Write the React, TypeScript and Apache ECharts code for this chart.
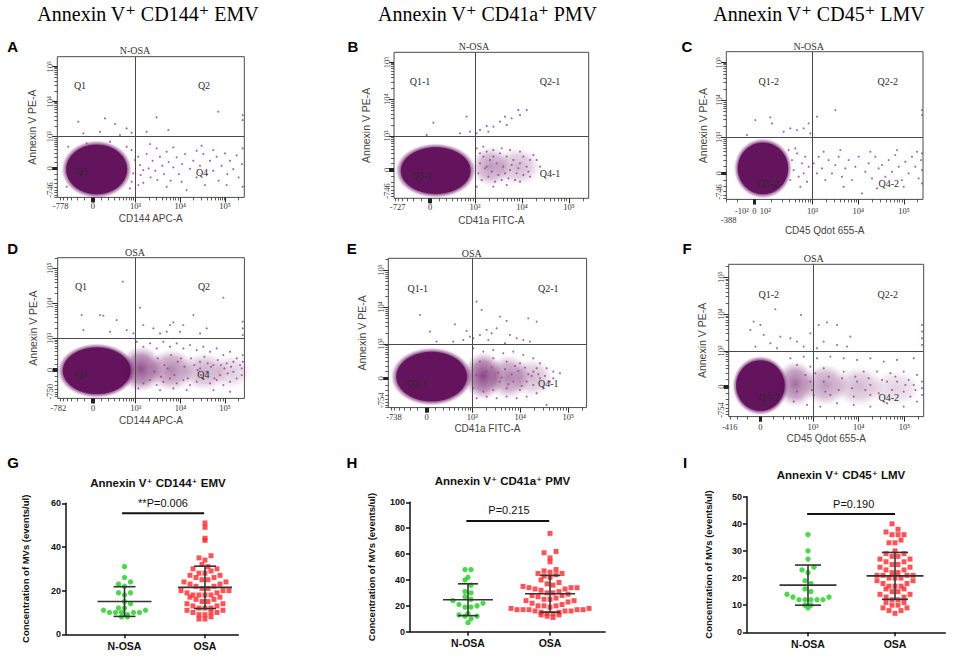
import React, { useEffect, useRef } from "react";
import * as echarts from "echarts";

const SERIF = "Liberation Serif, DejaVu Serif, serif";
const SANS = "Liberation Sans, Arial, DejaVu Sans, sans-serif";

// ---------------- texts ----------------
const columnTitles = ["Annexin V⁺ CD144⁺ EMV", "Annexin V⁺ CD41a⁺ PMV", "Annexin V⁺ CD45⁺ LMV"];
const panelLetters = ["A", "B", "C", "D", "E", "F", "G", "H", "I"];
const groupNames = ["N-OSA", "OSA"];

// ---------------- flow cytometry panels (A-F), values in display channels ----------------
const flowGroup = ["N-OSA", "N-OSA", "N-OSA", "OSA", "OSA", "OSA"];
const flowXName = ["CD144 APC-A", "CD41a FITC-A", "CD45 Qdot 655-A", "CD144 APC-A", "CD41a FITC-A", "CD45 Qdot 655-A"];
const flowYName = "Annexin V PE-A";
const flowQuadrants = [
  ["Q1", "Q2", "Q3", "Q4"],
  ["Q1-1", "Q2-1", "Q3-1", "Q4-1"],
  ["Q1-2", "Q2-2", "Q3-2", "Q4-2"],
  ["Q1", "Q2", "Q3", "Q4"],
  ["Q1-1", "Q2-1", "Q3-1", "Q4-1"],
  ["Q1-2", "Q2-2", "Q3-2", "Q4-2"],
];
const flowXRange = [561, 584, 590, 560, 595, 585];
const flowYRange = [422, 438, 443, 422, 448, 457];
// biexponential display model of each axis: [channel of 0, channel of 10^3, channels per decade]
const flowXScale = [[107, 235, 134], [108, 243, 141], [84, 259, 137], [106, 234, 134], [115, 252, 144], [95, 253, 137]];
const flowYScale = [[87, 182, 105], [85, 187, 110], [78, 186, 112], [85, 180, 105], [88, 191, 111], [90, 197, 111]];
const flowXTickText = [
  ["-778", "0", "10³", "10⁴", "10⁵"],
  ["-727", "0", "10³", "10⁴", "10⁵"],
  ["-388", "-10²", "0", "10²", "10³", "10⁴", "10⁵"],
  ["-782", "0", "10³", "10⁴", "10⁵"],
  ["-738", "0", "10³", "10⁴", "10⁵"],
  ["-416", "0", "10³", "10⁴", "10⁵"],
];
const flowXTickAt = [
  [10, 107, 235, 369, 503],
  [11, 108, 243, 384, 525],
  [7, 47, 84, 117, 259, 396, 533],
  [2, 106, 234, 368, 502],
  [17, 115, 252, 396, 540],
  [3, 95, 253, 390, 527],
];
const flowYTickText = [
  ["-746", "0", "10³", "10⁴", "10⁵"],
  ["-746", "0", "10³", "10⁴", "10⁵"],
  ["-746", "0", "10³", "10⁴", "10⁵"],
  ["-750", "0", "10³", "10⁴", "10⁵"],
  ["-754", "0", "10³", "10⁴", "10⁵"],
  ["-754", "0", "10³", "10⁴", "10⁵"],
];
const flowYTickAt = [
  [22, 87, 182, 287, 392],
  [22, 85, 187, 297, 407],
  [22, 78, 186, 298, 410],
  [20, 85, 180, 285, 390],
  [22, 88, 191, 302, 413],
  [20, 90, 197, 308, 419],
];
const flowGate = [[235, 182], [243, 187], [259, 186], [234, 180], [252, 191], [253, 197]];
const flowCore = [[118, 84], [125, 83], [110, 93], [117, 83], [130, 93], [95, 93]];
const flowTail = [
  [],
  [[290, 95], [370, 95]],
  [],
  [[250, 88], [340, 85], [440, 80], [520, 80]],
  [[285, 95], [360, 92], [430, 90]],
  [[200, 98], [290, 95], [390, 90], [500, 85]],
];
const flowPointsA = [
  [63, 227], [143, 237], [173, 220], [208, 207], [128, 197], [223, 194], [188, 187], [78, 192],
  [298, 240], [483, 257], [268, 197], [333, 202], [556, 247], [556, 232],
  [243, 122], [248, 97], [250, 67], [258, 44], [268, 130], [274, 87], [280, 60], [286, 110], [294, 80], [300, 52],
  [308, 122], [315, 95], [320, 70], [328, 137], [334, 106], [340, 50], [348, 90], [358, 120], [365, 70], [374, 100],
  [383, 130], [388, 22], [398, 86], [408, 110], [418, 60], [428, 95], [438, 130], [448, 70], [458, 110], [468, 80],
  [478, 122], [484, 50], [493, 95], [503, 132], [510, 70], [518, 110], [528, 85], [538, 126], [544, 60], [554, 100],
  [556, 147], [556, 32], [278, 160], [348, 150], [433, 155], [298, 147], [418, 140], [468, 142], [258, 82], [243, 37],
  [328, 32], [373, 47], [443, 37], [508, 37],
  [223, 142], [228, 72], [233, 112], [218, 27], [223, 47], [208, 152], [158, 167], [88, 162], [33, 152], [28, 32],
];
const flowPointsB = [
  [218, 245], [333, 245], [373, 265], [398, 265], [318, 230], [278, 217], [258, 205], [298, 215], [353, 240], [118, 227],
  [98, 190], [198, 195], [228, 200], [248, 195], [283, 200], [338, 220], [378, 250],
  [248, 150], [258, 135], [268, 125], [278, 140], [288, 115], [298, 145], [308, 105], [318, 135], [328, 95], [338, 125],
  [348, 85], [358, 115], [368, 75], [378, 105], [388, 125], [398, 95], [408, 115], [418, 130], [253, 75], [263, 55],
  [273, 90], [283, 65], [293, 80], [303, 50], [313, 70], [323, 55], [333, 75], [343, 60], [353, 100], [363, 55],
  [373, 90], [388, 70], [403, 80], [378, 50], [258, 105], [278, 95], [298, 125], [268, 155], [323, 150], [348, 145],
  [378, 140], [428, 115], [438, 95], [408, 65], [248, 35], [298, 35], [338, 40],
];
const flowPointsC = [
  [87, 238], [132, 246], [137, 228], [192, 213], [212, 208], [232, 213], [247, 228], [62, 193], [172, 203], [272, 248],
  [327, 268], [587, 268], [587, 253], [252, 198],
  [187, 148], [197, 118], [202, 88], [212, 138], [217, 68], [227, 108], [232, 78], [237, 128], [242, 53], [247, 98],
  [222, 38], [192, 58], [207, 153],
  [262, 108], [272, 78], [277, 128], [287, 93], [297, 58], [307, 118], [317, 78], [327, 103], [337, 128], [347, 68],
  [357, 93], [367, 118], [377, 58], [387, 98], [397, 128], [407, 18], [417, 83], [427, 108], [437, 63], [447, 128],
  [457, 93], [467, 103], [477, 68], [487, 118], [497, 83], [507, 133], [517, 98], [527, 58], [537, 113], [547, 78],
  [557, 128], [567, 98], [577, 63], [584, 118], [587, 88], [587, 48], [587, 138], [292, 143], [342, 148], [432, 143],
  [512, 148], [572, 143], [352, 38], [452, 33], [532, 38],
];
const flowPointsD = [
  [195, 350], [72, 250], [127, 250], [137, 248], [177, 235], [247, 272], [497, 302], [407, 250], [347, 228], [337, 220],
  [377, 220], [447, 210], [287, 210], [257, 220], [207, 205], [227, 195], [307, 195], [327, 200], [367, 200], [427, 195],
  [77, 205], [157, 200], [555, 230], [555, 210], [555, 190],
  [237, 170], [257, 155], [277, 165], [297, 150], [317, 170], [337, 155], [357, 165], [377, 150], [397, 160], [417, 145],
  [437, 155], [457, 140], [477, 150], [497, 130], [517, 140], [537, 120], [547, 100], [527, 80], [537, 60], [517, 50],
  [497, 40], [477, 55], [457, 45], [437, 60], [417, 50], [397, 40], [377, 55], [357, 45], [337, 60], [317, 50],
  [297, 40], [277, 55], [257, 45], [242, 30], [427, 110], [467, 100], [507, 105], [447, 80], [487, 70], [427, 90],
  [527, 110], [552, 90], [552, 70], [555, 130], [555, 110], [347, 30], [307, 25], [387, 25], [467, 25], [517, 20],
  [300, 120], [320, 100], [340, 130], [360, 110], [380, 95], [400, 120], [420, 85], [440, 125], [460, 95], [480, 115],
  [500, 90], [290, 80], [310, 65], [330, 90], [350, 70], [370, 120], [390, 60], [410, 100], [430, 70], [450, 105],
  [470, 60], [490, 100], [510, 75], [520, 95],
];
const flowPointsE = [
  [95, 278], [200, 250], [235, 230], [265, 318], [280, 293], [335, 273], [355, 260], [420, 268], [445, 258], [295, 233],
  [310, 223], [325, 238], [275, 218], [255, 208], [385, 208], [405, 203], [425, 198], [125, 228], [145, 198], [195, 198],
  [225, 203], [245, 213], [300, 203], [350, 193], [365, 218],
  [255, 178], [285, 168], [315, 173], [345, 163], [375, 168], [405, 158], [435, 148], [455, 133], [475, 118], [495, 108],
  [515, 103], [485, 78], [465, 58], [445, 43], [415, 33], [385, 28], [355, 33], [325, 28], [295, 33], [265, 28],
  [475, 8], [255, 58], [275, 138], [315, 148], [355, 138], [395, 133], [435, 108], [455, 88], [435, 68], [395, 53],
  [355, 58], [315, 53], [285, 48], [335, 78], [375, 78], [415, 78], [295, 108], [265, 98], [445, 118], [495, 88],
  [310, 120], [330, 105], [350, 115], [370, 100], [390, 110], [410, 120], [430, 95], [380, 125], [340, 90], [360, 70],
  [400, 65], [420, 100], [450, 100], [470, 95],
];
const flowPointsF = [
  [140, 322], [217, 305], [75, 285], [95, 275], [65, 260], [105, 245], [125, 220], [155, 240], [185, 235], [205, 225],
  [225, 210], [245, 250], [270, 275], [295, 283], [325, 275], [365, 240], [285, 225], [325, 215], [355, 210], [145, 205],
  [80, 210], [265, 205], [580, 275], [580, 255], [580, 235], [580, 215],
  [185, 175], [225, 180], [265, 175], [305, 180], [345, 175], [385, 170], [425, 175], [465, 165], [505, 170], [555, 175],
  [195, 45], [235, 35], [275, 30], [325, 40], [375, 35], [425, 30], [475, 40], [525, 30], [565, 45], [405, 135],
  [445, 135], [485, 130], [525, 135], [565, 125], [580, 105], [580, 85], [580, 65], [555, 95], [525, 75], [505, 105],
  [545, 60], [425, 65], [375, 60], [345, 135], [285, 145], [245, 150], [205, 155], [305, 65], [255, 65], [205, 75],
  [385, 105], [285, 105], [245, 105], [425, 95], [475, 105],
  [230, 125], [260, 130], [300, 120], [340, 115], [380, 120], [420, 115], [460, 110], [500, 120], [540, 110], [250, 80],
  [290, 75], [330, 80], [370, 85], [410, 80], [450, 70], [490, 80], [530, 95], [560, 80],
];
const flowPoints = [flowPointsA, flowPointsB, flowPointsC, flowPointsD, flowPointsE, flowPointsF];

// ---------------- dot plots (G-I), events/ul ----------------
const dotTitles = ["Annexin V⁺ CD144⁺ EMV", "Annexin V⁺ CD41a⁺ PMV", "Annexin V⁺ CD45⁺ LMV"];
const dotYName = "Concentration of MVs (events/ul)";
const emvNOSA = [31, 26, 24, 23, 22, 19, 19, 18, 15, 14, 12, 12, 11, 11, 10, 10, 10, 10, 10, 9, 8, 8];
const emvOSA = [51, 49, 44, 43, 36, 35, 34, 32, 31, 30, 30, 29, 28, 28, 27, 27, 26, 26, 25, 25, 24, 24, 23, 23, 22, 22,
  21, 21, 20, 20, 20, 19, 19, 18, 18, 18, 18, 17, 17, 16, 16, 15, 15, 14, 14, 13, 13, 12, 12, 12, 11, 11, 10, 10, 10,
  9, 9, 8, 7, 7];
const pmvNOSA = [48, 48, 42, 40, 36, 31, 30, 27, 25, 24, 22, 21, 20, 19, 19, 14, 13, 12, 12, 10, 7];
const pmvOSA = [76, 62, 61, 57, 54, 48, 47, 46, 45, 45, 44, 43, 42, 40, 38, 37, 36, 35, 34, 34, 34, 33, 33, 32, 31, 30,
  30, 29, 28, 28, 27, 26, 25, 25, 24, 24, 23, 22, 21, 20, 20, 20, 19, 18, 18, 17, 17, 17, 17, 17, 16, 16, 16, 15, 15,
  14, 14, 13, 13, 12, 11];
const lmvNOSA = [36, 30, 27, 24, 23, 22, 19, 18, 16, 15, 14, 13, 13, 12, 12, 12, 12, 12, 10, 10, 9];
const lmvOSA = [40, 38, 37, 36, 36, 36, 34, 33, 33, 30, 29, 29, 28, 28, 27, 27, 26, 26, 25, 25, 24, 24, 23, 23, 22, 22,
  21, 21, 21, 21, 20, 20, 20, 19, 19, 18, 18, 17, 17, 17, 16, 16, 15, 15, 14, 14, 13, 13, 12, 12, 11, 11, 10, 10, 9, 9,
  8, 8, 7];
const dotValues = [[emvNOSA, emvOSA], [pmvNOSA, pmvOSA], [lmvNOSA, lmvOSA]];
// [mean, SD] per group as drawn
const dotStats = [
  [[15.0, 6.8], [21.5, 9.7]],
  [[24.7, 12.3], [29.3, 14.2]],
  [[17.4, 7.4], [20.8, 8.65]],
];
const dotYMax = [60, 100, 50];
const dotYStep = [20, 20, 10];
// significance bar: [from, to, height]
const dotSig = [[0.97, 1.99, 55.4], [0.98, 1.99, 85.5], [0.99, 2.0, 43.6]];
const dotSigText = ["**P=0.006", "P=0.215", "P=0.190"];

// ---------------- layout (pixels) ----------------
const flowGridBox = [
  [57.3, 56.7, 187, 140.7],
  [394, 52.3, 194.7, 146],
  [726.3, 51.7, 196.7, 147.7],
  [57.7, 257.7, 186.7, 140.7],
  [388.3, 258.3, 198.3, 149.3],
  [728.7, 264.3, 195, 152.3],
];
const flowXNameGap = [15.7, 16.7, 20.7, 16.7, 15.6, 16.6];
const flowXLabelMargin = [4, 4, 7, 5, 5, 6];
const flowYNameGap = [19.6, 22.3, 18.3, 19.4, 20.6, 21];
const flowCoreSize = [[63, 51], [72, 48], [52, 53], [70, 48], [73, 51], [50, 52]];
const flowTailSize = [
  [],
  [[40, 40], [48, 38]],
  [],
  [[44, 46], [48, 42], [50, 38], [40, 34]],
  [[40, 48], [44, 44], [44, 38]],
  [[40, 46], [46, 42], [50, 40], [52, 36]],
];
const flowTailAlpha = [[], [0.5, 0.35], [], [0.85, 0.6, 0.4, 0.25], [0.9, 0.6, 0.35], [0.7, 0.5, 0.35, 0.22]];
const flowGroupPos = [[135, 50.7], [474, 46], [808.7, 46], [135, 252.3], [471.7, 253.3], [813.7, 258.3]];
const flowQuadPos = [
  [[80, 85], [204, 85], [81.7, 171.7], [202, 172]],
  [[420, 81.7], [550, 81.7], [421.7, 175.7], [550, 173.3]],
  [[768.7, 81.7], [887.7, 81.7], [768, 183.3], [888.7, 183.3]],
  [[81, 286], [204, 286], [81, 374.3], [203.3, 374.3]],
  [[417.7, 288.3], [548.3, 288.3], [416.7, 383.3], [548.3, 383.3]],
  [[768.7, 294.3], [887.7, 294.3], [768.7, 397.7], [888.7, 397.7]],
];
const letterPos = [[12.7, 46.7], [353, 46.7], [687, 46.7], [12.7, 248], [351.7, 248], [687, 248], [13, 462], [352, 462], [685, 462]];
const columnTitlePos = [[148, 14], [487.5, 14], [819, 14]];
const dotGridBox = [[66, 503.3, 172.3, 131], [410, 502.3, 195, 129.4], [747, 496.7, 198.3, 135.6]];
const dotXExtent = [[0.273, 2.414], [0.293, 2.67], [0.299, 2.578]];
const dotCatPx = [80.5, 82, 87];
const dotYNameGap = [36, 33.5, 33.5];
const dotTitlePos = [[158, 483.3], [502.5, 480.7], [841, 475]];
const dotSigTextPos = [[163, 503], [509, 510], [853.7, 504]];
const dotMeanHalf = [27, 25, 28.5];
const dotCapHalf = [11, 10, 13];

function logiclePos(v: number, s: number[]) {
  const [zero, p3, dec] = s;
  const b = dec / Math.LN10;
  const c = 1000 / Math.sinh((p3 - zero) / b);
  return zero + b * Math.asinh(v / c);
}

function minorTicks(s: number[], len: number) {
  const vals: number[] = [];
  for (let m = 1; m <= 9; m++) vals.push(-m * 100);
  for (const d of [100, 1000, 10000, 100000]) for (let m = 1; m <= 9; m++) vals.push(m * d);
  return vals.map((v) => logiclePos(v, s)).filter((p) => p >= 0 && p <= len);
}

function majorTicks(s: number[], len: number) {
  const [zero, p3, dec] = s;
  return [zero - 4, zero - 2, zero, zero + 2, zero + 4, p3, p3 + dec, p3 + 2 * dec].filter((p) => p >= 0 && p <= len);
}

function lookup(at: number[], texts: string[], v: number) {
  const k = at.findIndex((a) => Math.abs(a - v) < 1e-6);
  if (k < 0) return "";
  const t = texts[k];
  if (t === "-388") return "{lo|-388}";
  return t;
}

function swarm(values: number[], center: number, binH: number, step: number) {
  const bins: Record<string, number[]> = {};
  values.forEach((v) => {
    const k = String(Math.round(v / binH));
    (bins[k] = bins[k] || []).push(v);
  });
  const pts: number[][] = [];
  Object.keys(bins).forEach((k) => {
    const list = bins[k];
    const n = list.length;
    // alternate around the centre so that rows look like a column scatter
    const order = list.map((v, i) => ({ v, i })).sort((a, b) => a.v - b.v);
    order.forEach((o, i) => {
      const slot = i % 2 === 0 ? i / 2 : -(i + 1) / 2;
      const shift = n % 2 === 0 ? 0.5 : 0;
      pts.push([center + (slot + shift) * step, o.v]);
    });
  });
  return pts;
}

function txt(text: string, x: number, y: number, size: number, family: string, opts: any = {}) {
  return {
    type: "text",
    x,
    y,
    rotation: opts.rotation || 0,
    z: 100,
    silent: true,
    style: {
      text,
      fontSize: size,
      fontFamily: family,
      fontWeight: opts.weight || "normal",
      fill: opts.color || "#000",
      textAlign: "center",
      textVerticalAlign: "middle",
      align: "center",
      verticalAlign: "middle",
    },
  };
}

function radial(stops: [number, string][]) {
  return new echarts.graphic.RadialGradient(0.5, 0.5, 0.5, stops.map(([offset, color]) => ({ offset, color })));
}

function buildOption() {
  const grid: any[] = [];
  const xAxis: any[] = [];
  const yAxis: any[] = [];
  const series: any[] = [];
  const graphic: any[] = [];

  // ---- flow panels ----
  for (let i = 0; i < 6; i++) {
    const [l, t, w, h] = flowGridBox[i];
    const gi = grid.length;
    grid.push({ left: l, top: t, width: w, height: h, show: true, borderColor: "#4a4a4a", borderWidth: 1, backgroundColor: "transparent" });
    const xl = flowXRange[i];
    const yl = flowYRange[i];
    const xi = xAxis.length;
    xAxis.push({
      gridIndex: gi, type: "value", min: 0, max: xl, position: "bottom",
      axisLine: { show: false }, splitLine: { show: false },
      axisTick: { show: true, customValues: majorTicks(flowXScale[i], xl), length: 5, lineStyle: { color: "#222", width: 1 } },
      axisLabel: {
        show: true, customValues: flowXTickAt[i], formatter: (v: number) => lookup(flowXTickAt[i], flowXTickText[i], v),
        fontFamily: SERIF, fontSize: 8.5, color: "#333", margin: flowXLabelMargin[i],
        rich: { lo: { fontFamily: SERIF, fontSize: 8.5, color: "#333", padding: [9, 0, 0, 0] } },
      },
      name: flowXName[i], nameLocation: "middle", nameGap: flowXNameGap[i],
      nameTextStyle: { fontFamily: SANS, fontSize: 10, color: "#444" },
    });
    xAxis.push({
      gridIndex: gi, type: "value", min: 0, max: xl, position: "bottom", offset: 0,
      axisLine: { show: false }, splitLine: { show: false }, axisLabel: { show: false },
      axisTick: { show: true, customValues: minorTicks(flowXScale[i], xl), length: 3, lineStyle: { color: "#333", width: 0.8 } },
    });
    const yi = yAxis.length;
    yAxis.push({
      gridIndex: gi, type: "value", min: 0, max: yl, position: "left",
      axisLine: { show: false }, splitLine: { show: false },
      axisTick: { show: true, customValues: majorTicks(flowYScale[i], yl), length: 5, lineStyle: { color: "#222", width: 1 } },
      axisLabel: {
        show: true, customValues: flowYTickAt[i], formatter: (v: number) => lookup(flowYTickAt[i], flowYTickText[i], v),
        rotate: 90, fontFamily: SERIF, fontSize: 8.5, color: "#333", margin: 3,
      },
      name: flowYName, nameLocation: "middle", nameGap: flowYNameGap[i], nameRotate: 90,
      nameTextStyle: { fontFamily: SANS, fontSize: 10.5, color: "#444" },
    });
    yAxis.push({
      gridIndex: gi, type: "value", min: 0, max: yl, position: "left", offset: 0,
      axisLine: { show: false }, splitLine: { show: false }, axisLabel: { show: false },
      axisTick: { show: true, customValues: minorTicks(flowYScale[i], yl), length: 3, lineStyle: { color: "#333", width: 0.8 } },
    });

    const tails = flowTail[i].map((c, k) => ({
      value: c,
      symbolSize: flowTailSize[i][k],
      itemStyle: { opacity: flowTailAlpha[i][k] },
    }));
    series.push({
      type: "scatter", xAxisIndex: xi, yAxisIndex: yi, silent: true, symbol: "circle", data: tails,
      itemStyle: {
        color: radial([[0, "rgba(100,14,93,0.85)"], [0.6, "rgba(115,30,108,0.55)"], [1, "rgba(160,85,155,0)"]]),
      },
    });
    const cs = flowCoreSize[i];
    series.push({
      type: "scatter", xAxisIndex: xi, yAxisIndex: yi, silent: true, symbol: "circle",
      data: [flowCore[i]], symbolSize: [cs[0] * 1.12, cs[1] * 1.14],
      itemStyle: {
        color: radial([[0, "rgba(94,12,88,1)"], [0.84, "rgba(94,12,88,1)"], [0.92, "rgba(130,50,124,0.55)"], [1, "rgba(175,105,170,0)"]]),
      },
    });
    series.push({
      type: "scatter", xAxisIndex: xi, yAxisIndex: yi, silent: true, symbol: "circle",
      data: flowPoints[i], symbolSize: 2.1,
      itemStyle: { color: "#94408f", opacity: 0.8 },
      markLine: {
        silent: true, symbol: ["none", "none"], label: { show: false }, animation: false,
        lineStyle: { color: "#4a4a4a", width: 1, type: "solid" },
        data: [{ xAxis: flowGate[i][0] }, { yAxis: flowGate[i][1] }],
      },
    });
    series.push({
      type: "scatter", xAxisIndex: xi, yAxisIndex: yi, silent: true, symbol: "circle",
      data: [flowCore[i]], symbolSize: [cs[0] * 0.97, cs[1] * 0.97],
      itemStyle: { color: "#5c0a56" },
    });

    graphic.push(txt(flowGroup[i], flowGroupPos[i][0], flowGroupPos[i][1], 10, SERIF, { color: "#333" }));
    flowQuadrants[i].forEach((q, k) => {
      graphic.push(txt(q, flowQuadPos[i][k][0], flowQuadPos[i][k][1], 10, SERIF, { color: "#2a2a2a" }));
    });
  }

  // ---- dot plots ----
  for (let j = 0; j < 3; j++) {
    const [l, t, w, h] = dotGridBox[j];
    const gi = grid.length;
    grid.push({ left: l, top: t, width: w, height: h, show: false });
    const xi = xAxis.length;
    xAxis.push({
      gridIndex: gi, type: "value", min: dotXExtent[j][0], max: dotXExtent[j][1], position: "bottom",
      axisLine: { show: true, onZero: false, lineStyle: { color: "#111", width: 1.5 } },
      splitLine: { show: false },
      axisTick: { show: true, customValues: [1, 2], length: 4, lineStyle: { color: "#111", width: 1.5 } },
      axisLabel: {
        show: true, customValues: [1, 2], formatter: (v: number) => groupNames[Math.round(v) - 1] || "",
        fontFamily: SANS, fontWeight: "bold", fontSize: 10.5, color: "#111", margin: 6,
      },
    });
    const yi = yAxis.length;
    yAxis.push({
      gridIndex: gi, type: "value", min: 0, max: dotYMax[j], interval: dotYStep[j], position: "left",
      axisLine: { show: true, onZero: false, lineStyle: { color: "#111", width: 1.5 } },
      splitLine: { show: false },
      axisTick: { show: true, length: 4, lineStyle: { color: "#111", width: 1.5 } },
      axisLabel: { fontFamily: SANS, fontWeight: "bold", fontSize: 9, color: "#111", margin: 5 },
      name: dotYName, nameLocation: "middle", nameGap: dotYNameGap[j], nameRotate: 90,
      nameTextStyle: { fontFamily: SANS, fontWeight: "bold", fontSize: 9.5, color: "#111" },
    });
    const pxPerUnit = h / dotYMax[j];
    const binH = 7 / pxPerUnit;
    const step = 6 / dotCatPx[j];
    const [nosa, osa] = dotValues[j];
    series.push({
      type: "scatter", xAxisIndex: xi, yAxisIndex: yi, silent: true, symbol: "circle", symbolSize: 5.4,
      data: swarm(nosa, 1, binH, step), itemStyle: { color: "#22cc22" },
    });
    series.push({
      type: "scatter", xAxisIndex: xi, yAxisIndex: yi, silent: true, symbol: "rect", symbolSize: 5,
      data: swarm(osa, 2, binH, step), itemStyle: { color: "#f72a2f" },
    });
    const mh = dotMeanHalf[j];
    const ch = dotCapHalf[j];
    series.push({
      type: "custom", xAxisIndex: xi, yAxisIndex: yi, silent: true, z: 4,
      data: dotStats[j].map((s, k) => [k + 1, s[0], s[1]]),
      renderItem: (_p: any, api: any) => {
        const c = api.value(0);
        const m = api.value(1);
        const s = api.value(2);
        const pm = api.coord([c, m]);
        const pu = api.coord([c, m + s]);
        const pl = api.coord([c, m - s]);
        const st = { stroke: "#333", lineWidth: 1.6 };
        const seg = (x1: number, y1: number, x2: number, y2: number) => ({ type: "line", shape: { x1, y1, x2, y2 }, style: st });
        return {
          type: "group",
          children: [
            seg(pm[0] - mh, pm[1], pm[0] + mh, pm[1]),
            seg(pu[0] - ch, pu[1], pu[0] + ch, pu[1]),
            seg(pl[0] - ch, pl[1], pl[0] + ch, pl[1]),
            seg(pu[0], pu[1], pl[0], pl[1]),
          ],
        };
      },
    });
    series.push({
      type: "custom", xAxisIndex: xi, yAxisIndex: yi, silent: true, z: 4,
      data: [dotSig[j]],
      renderItem: (_p: any, api: any) => {
        const a = api.coord([api.value(0), api.value(2)]);
        const b = api.coord([api.value(1), api.value(2)]);
        return { type: "line", shape: { x1: a[0], y1: a[1], x2: b[0], y2: b[1] }, style: { stroke: "#111", lineWidth: 2 } };
      },
    });
    graphic.push(txt(dotSigText[j], dotSigTextPos[j][0], dotSigTextPos[j][1], 11, SANS, { color: "#111" }));
    graphic.push(txt(dotTitles[j], dotTitlePos[j][0], dotTitlePos[j][1], 11.5, SANS, { weight: "bold", color: "#111" }));
  }

  columnTitles.forEach((ct, k) => graphic.push(txt(ct, columnTitlePos[k][0], columnTitlePos[k][1], 20, SERIF, { color: "#000" })));
  panelLetters.forEach((pl, k) => graphic.push(txt(pl, letterPos[k][0], letterPos[k][1], 15, SANS, { weight: "bold", color: "#000" })));

  return { animation: false, backgroundColor: "#ffffff", grid, xAxis, yAxis, series, graphic };
}

export default function App() {
  const ref = useRef<HTMLDivElement>(null);
  useEffect(() => {
    if (!ref.current) return;
    const chart = echarts.init(ref.current, null, { renderer: "svg" });
    chart.setOption(buildOption() as any);
    return () => chart.dispose();
  }, []);
  return <div ref={ref} style={{ position: "fixed", left: 0, top: 0, width: 957, height: 658, background: "#fff" }} />;
}
